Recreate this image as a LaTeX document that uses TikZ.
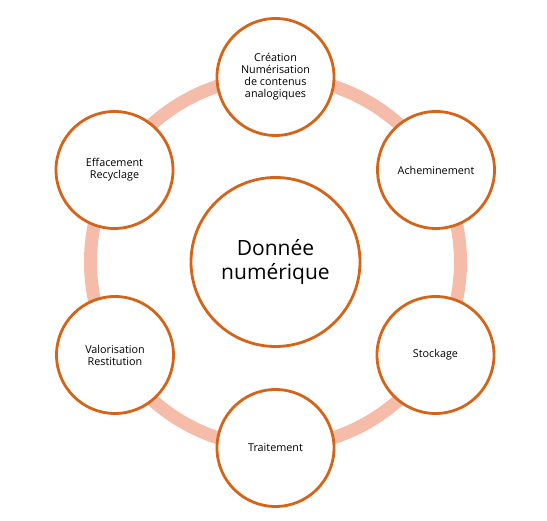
\documentclass[tikz,border=0pt]{standalone}
\usepackage{fontspec}
\setmainfont{Open Sans}
\definecolor{ringc}{RGB}{245,188,170}
\definecolor{edgec}{RGB}{214,100,24}
\begin{document}
\begin{tikzpicture}[x=1pt,y=1pt,
  stage/.style={circle,draw=edgec,line width=2.8pt,fill=white,minimum size=117pt,inner sep=0pt,align=center,font=\fontsize{10.8}{12}\selectfont},
  core/.style={circle,draw=edgec,line width=2.8pt,fill=white,minimum size=169pt,inner sep=0pt,align=center,font=\fontsize{21}{24.5}\selectfont}]
\useasboundingbox (0,0) rectangle (547,521);
\coordinate (o) at (275.5,259);
\draw[ringc,line width=13pt] (o) circle[radius=185];
\node[core] (c) at (o) {Donnée\\numérique};
\node[stage] (s1) at (275.5,444) {Création\\Numérisation\\de contenus\\analogiques};
\node[stage] (s2) at (436,351) {Acheminement};
\node[stage] (s3) at (435.5,166) {Stockage};
\node[stage] (s4) at (275.5,73) {Traitement};
\node[stage] (s5) at (115,166) {Valorisation\\Restitution};
\node[stage] (s6) at (114.5,351) {Effacement\\Recyclage};
\end{tikzpicture}
\end{document}
